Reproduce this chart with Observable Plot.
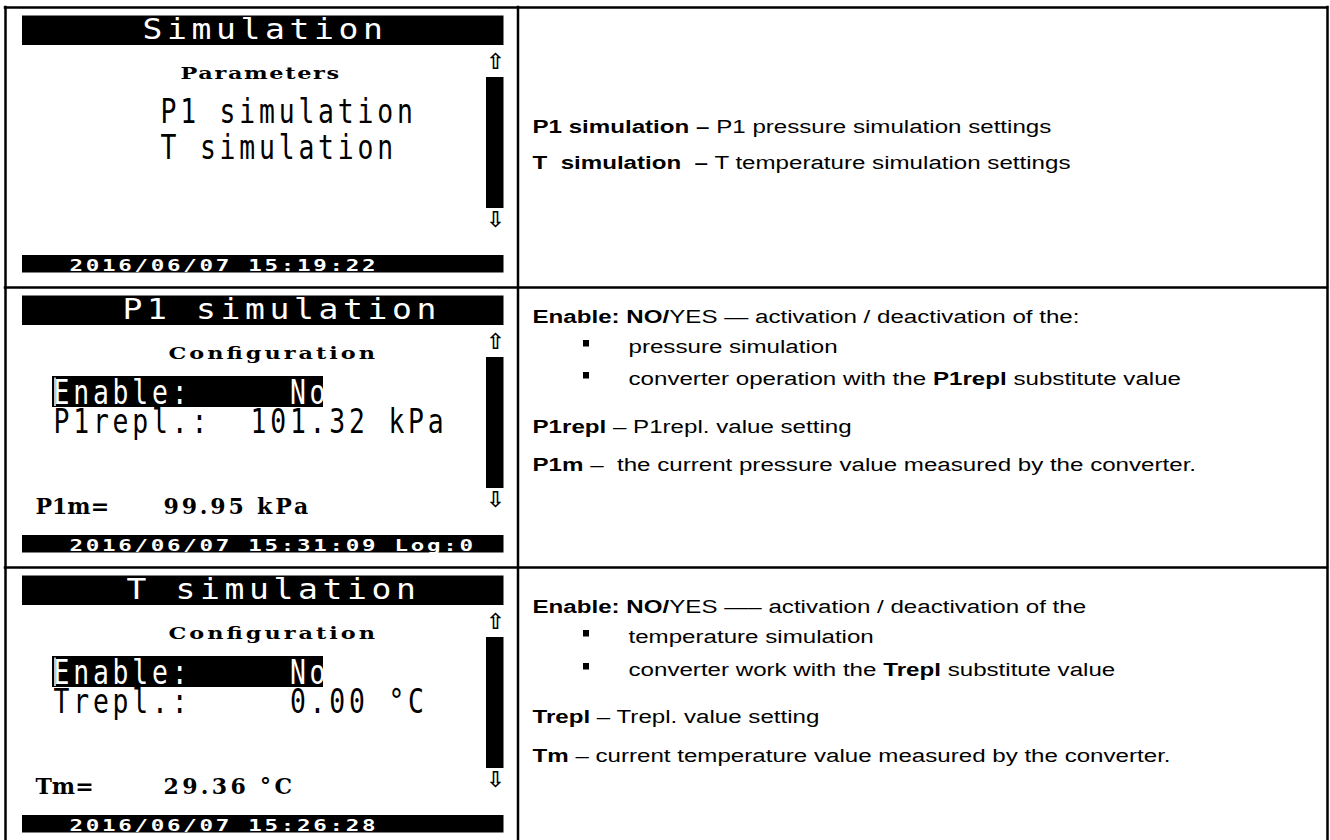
<!DOCTYPE html>
<html>
<head>
<meta charset="utf-8">
<script src="https://cdn.jsdelivr.net/npm/d3@7"></script>
<script src="https://cdn.jsdelivr.net/npm/@observablehq/plot@0.6"></script>
<style>
html, body { margin: 0; padding: 0; background: #fff; overflow: hidden; }
svg { display: block; }
svg text { white-space: pre; }
</style>
</head>
<body>
<div id="chart"></div>
<script>
// ---------------- data ----------------
const screenTitles = ["Simulation", "P1 simulation", "T simulation"];
const screenSubtitles = ["Parameters", "Configuration", "Configuration"];
const menuLines = [
  ["P1 simulation", "T simulation"],
  ["Enable:     No", "P1repl.:  101.32 kPa"],
  ["Enable:     No", "Trepl.:     0.00 °C"]
];
const highlightedLine = [null, 0, 0];
const measuredLabels = [null, "P1m=", "Tm="];
const measuredValues = [null, "99.95 kPa", "29.36 °C"];
const statusLines = ["2016/06/07 15:19:22", "2016/06/07 15:31:09 Log:0", "2016/06/07 15:26:28"];
const arrowGlyphs = ["⇧", "⇩"];

// description column: each line = list of [text, bold] runs
const descLines = [
  [
    {bullet: false, runs: [["P1 simulation –", true], [" P1 pressure simulation settings", false]]},
    {bullet: false, runs: [["T  simulation  –", true], [" T temperature simulation settings", false]]}
  ],
  [
    {bullet: false, runs: [["Enable: NO/", true], ["YES — activation / deactivation of the:", false]]},
    {bullet: true, runs: [["pressure simulation", false]]},
    {bullet: true, runs: [["converter operation with the ", false], ["P1repl", true], [" substitute value", false]]},
    {bullet: false, runs: [["P1repl", true], [" – P1repl. value setting", false]]},
    {bullet: false, runs: [["P1m", true], [" –  the current pressure value measured by the converter.", false]]}
  ],
  [
    {bullet: false, runs: [["Enable: NO/", true], ["YES —– activation / deactivation of the", false]]},
    {bullet: true, runs: [["temperature simulation", false]]},
    {bullet: true, runs: [["converter work with the ", false], ["Trepl", true], [" substitute value", false]]},
    {bullet: false, runs: [["Trepl", true], [" – Trepl. value setting", false]]},
    {bullet: false, runs: [["Tm", true], [" – current temperature value measured by the converter.", false]]}
  ]
];

// ---------------- layout ----------------
const W = 1330, H = 840;
const LAYOUT = {
  rowTop: [7, 287, 567],
  table: {left: 5, right: 1327, top: 7, col: 517.5, stroke: 2.5},
  lcd: {left: 22, right: 503.5},
  titleBar: [8.5, 38], statusBar: [248, 265.5],
  scroll: {x1: 486, x2: 503.5, y1: 70, y2: 201},
  arrow: {x: 495, y: [54, 212]},
  highlight: {x1: 52, x2: 323, y1: 89, y2: 120},
  titleX: [142, 122, 126], titleY: 31,
  subX: [180, 168, 168], subY: 71,
  menuX: [160, 53, 53], menuY: [[115, 151], [116, 145], [116, 145]],
  measX: [35, 163], measY: 226,
  statusX: 69, statusY: 263,
  desc: {x: 532, bulletX1: 583, bulletX2: 589, bulletTextX: 628,
         y: [[132, 168], [322, 352, 384, 432, 470], [612, 642, 675, 722, 761]]}
};
const LCD_STYLES = {
  title:  {family: "DejaVu Sans Mono", weight: "normal", size: 27.5, sx: 1.2,  pitch: 24.5,  adv: 0.602},
  menu:   {family: "DejaVu Sans Mono", weight: "normal", size: 33,   sx: 0.8,  pitch: 19.7,  adv: 0.602},
  small:  {family: "DejaVu Serif",     weight: "bold",   size: 16,   sx: 1.4,  pitch: 16,    adv: 0.65},
  value:  {family: "DejaVu Serif",     weight: "bold",   size: 22,   sx: 1,    pitch: 16.3,  adv: 0.65},
  status: {family: "DejaVu Sans Mono", weight: "bold",   size: 15,   sx: 1.5,  pitch: 16.25, adv: 0.602}
};
const DESC_STYLE = {family: "Liberation Sans", size: 19, sx: 1.27};

// ---------------- build mark tables ----------------
const bars = [];
const lcdItems = [];
const arrows = [];
const cursors = [];
function addLcd(style, fill, text, x, y, fixedPitch = true) {
  const s = LCD_STYLES[style];
  const n = [...text].length;
  const len = fixedPitch ? ((n - 1) * s.pitch) / s.sx + s.adv * s.size : null;
  lcdItems.push({key: `lcd-${style}-${fill}`, style, fill, text, x, y, len});
}
screenTitles.forEach((title, i) => {
  const top = LAYOUT.rowTop[i];
  const {lcd} = LAYOUT;
  bars.push({x1: lcd.left, x2: lcd.right, y1: top + LAYOUT.titleBar[0], y2: top + LAYOUT.titleBar[1]});
  bars.push({x1: lcd.left, x2: lcd.right, y1: top + LAYOUT.statusBar[0], y2: top + LAYOUT.statusBar[1]});
  bars.push({x1: LAYOUT.scroll.x1, x2: LAYOUT.scroll.x2, y1: top + LAYOUT.scroll.y1, y2: top + LAYOUT.scroll.y2});
  if (highlightedLine[i] !== null) {
    const h = LAYOUT.highlight;
    bars.push({x1: h.x1, x2: h.x2, y1: top + h.y1, y2: top + h.y2});
    cursors.push({x: h.x1 + 2.5, y1: top + h.y1 + 1.5, y2: top + h.y2 - 1});
  }
  addLcd("title", "white", title, LAYOUT.titleX[i], top + LAYOUT.titleY);
  addLcd("small", "black", screenSubtitles[i], LAYOUT.subX[i], top + LAYOUT.subY);
  menuLines[i].forEach((line, j) => {
    addLcd("menu", highlightedLine[i] === j ? "white" : "black", line, LAYOUT.menuX[i], top + LAYOUT.menuY[i][j]);
  });
  if (measuredLabels[i]) {
    addLcd("value", "black", measuredLabels[i], LAYOUT.measX[0], top + LAYOUT.measY, false);
    addLcd("value", "black", measuredValues[i], LAYOUT.measX[1], top + LAYOUT.measY);
  }
  addLcd("status", "white", statusLines[i], LAYOUT.statusX, top + LAYOUT.statusY);
  arrowGlyphs.forEach((g, k) => arrows.push({x: LAYOUT.arrow.x, y: top + LAYOUT.arrow.y[k], text: g}));
});

// description runs, positioned by measuring the text
const ctx = document.createElement("canvas").getContext("2d");
function textWidth(t, bold) {
  ctx.font = `${bold ? "bold " : ""}${DESC_STYLE.size}px "${DESC_STYLE.family}"`;
  return ctx.measureText(t).width * DESC_STYLE.sx;
}
const descRuns = [];
const bullets = [];
descLines.forEach((lines, i) => {
  lines.forEach((line, j) => {
    const y = LAYOUT.desc.y[i][j];
    let x = line.bullet ? LAYOUT.desc.bulletTextX : LAYOUT.desc.x;
    if (line.bullet) bullets.push({x1: LAYOUT.desc.bulletX1, x2: LAYOUT.desc.bulletX2, y1: y - 12, y2: y - 5.5});
    line.runs.forEach(([t, bold]) => {
      descRuns.push({text: t, bold, x, y});
      x += textWidth(t, bold);
    });
  });
});

// ---------------- marks ----------------
const lcdKeys = [...new Set(lcdItems.map(d => d.key))];
const lcdMarks = lcdKeys.map(key => {
  const items = lcdItems.filter(d => d.key === key);
  const s = LCD_STYLES[items[0].style];
  return Plot.text(items, {
    x: "x", y: "y", text: "text", fill: items[0].fill,
    fontFamily: s.family, fontWeight: s.weight, fontSize: s.size,
    textAnchor: "start", lineAnchor: "bottom", ariaDescription: key
  });
});

const T = LAYOUT.table;
const chart = Plot.plot({
  width: W, height: H,
  margin: 0, marginTop: 0, marginRight: 0, marginBottom: 0, marginLeft: 0,
  x: {type: "linear", domain: [0, W], range: [0, W], axis: null},
  y: {type: "linear", domain: [0, H], range: [0, H], axis: null},
  style: {background: "white"},
  marks: [
    Plot.rect(bars, {x1: "x1", x2: "x2", y1: "y1", y2: "y2", fill: "black"}),
    Plot.ruleX(cursors, {x: "x", y1: "y1", y2: "y2", stroke: "white", strokeWidth: 1.5}),
    ...lcdMarks,
    Plot.text(arrows, {x: "x", y: "y", text: "text", fontFamily: "DejaVu Sans", fontSize: 22, fontWeight: "bold",
      textAnchor: "middle", lineAnchor: "middle", fill: "black"}),
    Plot.rect(bullets, {x1: "x1", x2: "x2", y1: "y1", y2: "y2", fill: "black"}),
    Plot.text(descRuns.filter(d => !d.bold), {x: "x", y: "y", text: "text", fill: "black",
      fontFamily: DESC_STYLE.family, fontSize: DESC_STYLE.size, textAnchor: "start", lineAnchor: "bottom", ariaDescription: "desc-regular"}),
    Plot.text(descRuns.filter(d => d.bold), {x: "x", y: "y", text: "text", fill: "black",
      fontFamily: DESC_STYLE.family, fontSize: DESC_STYLE.size, fontWeight: "bold", textAnchor: "start", lineAnchor: "bottom", ariaDescription: "desc-bold"}),
    Plot.ruleX([T.left, T.col, T.right], {x: d => d, y1: () => T.top - T.stroke / 2, y2: () => H + 2, stroke: "black", strokeWidth: T.stroke}),
    Plot.ruleY(LAYOUT.rowTop, {y: d => d, x1: () => T.left - T.stroke / 2, x2: () => T.right + T.stroke / 2, stroke: "black", strokeWidth: T.stroke})
  ]
});
document.getElementById("chart").appendChild(chart);

// ---------------- per-font stretch (LCD pixel fonts and the stretched document text) ----------------
function stretch(label, sx, lenOf) {
  const groups = chart.querySelectorAll(`g[aria-description="${label}"]`);
  groups.forEach(g => {
    g.querySelectorAll("text").forEach((el, k) => {
      const i = typeof el.__data__ === "number" ? el.__data__ : k;
      const t = el.getAttribute("transform") || "";
      el.setAttribute("transform", `${t} scale(${sx},1)`);
      if (lenOf) {
        const len = lenOf(i);
        if (len) { el.setAttribute("textLength", len); el.setAttribute("lengthAdjust", "spacing"); }
      }
    });
  });
}
lcdKeys.forEach(key => {
  const items = lcdItems.filter(d => d.key === key);
  const s = LCD_STYLES[items[0].style];
  stretch(key, s.sx, i => items[i].len);
});
stretch("desc-regular", DESC_STYLE.sx);
stretch("desc-bold", DESC_STYLE.sx);
</script>
</body>
</html>
